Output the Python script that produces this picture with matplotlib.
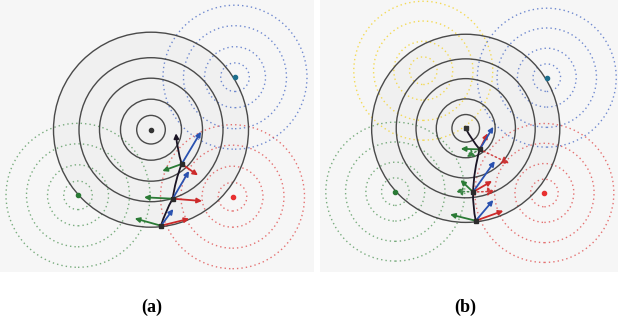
import numpy as np
import matplotlib.pyplot as plt
from matplotlib.patches import Circle

# scene in pixel-like units of panel (a), origin at the main (black) centre
ring_radii = [14.3, 30.5, 51.5, 72.0, 97.5]
other_radii = [14.3, 30.5, 51.5, 72.0]

centers = {
    'black': (0.0, 0.0),
    'blue': (84.0, 52.5),
    'red': (81.5, -67.0),
    'green': (-73.0, -65.6),
    'yellow': (-44.0, 59.7),
}

# trajectory points (a) and (b)
path_a_x = [10.0, 21.7, 30.7, 25.0]
path_a_y = [-96.0, -69.0, -34.3, -3.6]
path_b_x = [10.4, 7.6, 14.5, 0.0]
path_b_y = [-95.8, -66.0, -21.8, 0.0]

# force arrows: start point index, dx, dy, colour key, dotted?
arr_a_idx = [0, 0, 0, 1, 1, 1, 2, 2, 2]
arr_a_dx = [-26.3, 12.3, 28.3, -28.7, 16.3, 29.3, -19.4, 19.3, 16.3]
arr_a_dy = [7.3, 16.7, 7.0, 1.4, 27.7, -2.3, -7.0, 32.3, -11.3]
arr_a_col = ['g', 'b', 'r', 'g', 'b', 'r', 'g', 'b', 'r']
arr_a_dot = [False] * 9

arr_b_idx = [0, 0, 0, 1, 1, 1, 1, 1, 2, 2, 2, 2, 2]
arr_b_dx = [-26.6, 18.2, 28.6, -13.0, -18.0, 22.5, 19.7, 22.5, -19.7, -13.5, 8.3, 14.1, 30.4]
arr_b_dy = [6.6, 21.5, 10.4, 12.4, 1.0, 32.0, 11.4, 0.7, 0.6, -7.7, 16.6, 23.4, -14.5]
arr_b_col = ['g', 'b', 'r', 'g', 'g', 'b', 'r', 'r', 'g', 'g', 'r', 'b', 'r']
arr_b_dot = [False, False, False, False, True, False, False, True, False, True, False, False, True]

arrow_colors = {'g': '#2a7a35', 'b': '#2a52b0', 'r': '#cc2a2a'}
ring_colors = {'blue': '#4f6fc6', 'red': '#e05050', 'green': '#5a9a60', 'yellow': '#f3d32e'}
dot_colors = {'black': '#333333', 'blue': '#1e6e8c', 'red': '#e83030', 'green': '#2a7a35'}

BG = '#f6f6f6'


def draw_panel(ax, others, px, py, a_idx, a_dx, a_dy, a_col, a_dot, head_on_path):
    ax.set_facecolor(BG)
    # shaded main disc
    ax.add_patch(Circle(centers['black'], ring_radii[-1], facecolor='#f0f0f0',
                        edgecolor='none', zorder=0))
    for name in others:
        cx, cy = centers[name]
        for r in other_radii:
            ax.add_patch(Circle((cx, cy), r, fill=False, edgecolor=ring_colors[name],
                                linestyle=(0, (1, 2.2)), lw=1.0, alpha=0.8, zorder=1))
        if name in dot_colors:
            ax.plot(cx, cy, 'o', ms=3, color=dot_colors[name], zorder=5)
    for r in ring_radii:
        ax.add_patch(Circle(centers['black'], r, fill=False, edgecolor='#4a4a4a',
                            lw=1.0, zorder=2))
    ax.plot(0, 0, 'o' if head_on_path else 's', ms=3, color='#333333', zorder=6)

    # trajectory with slight curvature
    for i in range(len(px) - 1):
        last = i == len(px) - 2
        style = '-|>' if (last and head_on_path) else '-'
        ax.annotate('', xy=(px[i + 1], py[i + 1]), xytext=(px[i], py[i]),
                    arrowprops=dict(arrowstyle=style, color='#1a1424', lw=1.3,
                                    mutation_scale=7, shrinkA=0, shrinkB=0,
                                    connectionstyle='arc3,rad=-0.06'), zorder=4)
    for k in range(len(px) - 1):
        ax.plot(px[k], py[k], 's', ms=3, color='#2b2b2b', zorder=6)

    for i, dx, dy, c, dotted in zip(a_idx, a_dx, a_dy, a_col, a_dot):
        x0, y0 = px[i], py[i]
        if dotted:
            props = dict(arrowstyle='-|>,head_length=0.5,head_width=0.3', color=arrow_colors[c],
                         lw=1.1, linestyle=(0, (1, 1.8)), mutation_scale=8, shrinkA=0,
                         shrinkB=0, alpha=0.85)
        else:
            props = dict(arrowstyle='-|>', color=arrow_colors[c], lw=1.3,
                         mutation_scale=7, shrinkA=0, shrinkB=0)
        ax.annotate('', xy=(x0 + dx, y0 + dy), xytext=(x0, y0), arrowprops=props, zorder=5)

    for s in ax.spines.values():
        s.set_visible(False)
    ax.set_xticks([])
    ax.set_yticks([])


fig = plt.figure(figsize=(6.18, 3.2), dpi=100)

ax_a = fig.add_axes([0.0, 0.15, 314 / 618, 0.85])
draw_panel(ax_a, ['blue', 'red', 'green'], path_a_x, path_a_y,
           arr_a_idx, arr_a_dx, arr_a_dy, arr_a_col, arr_a_dot, True)
ax_a.set_xlim(-151, 163)
ax_a.set_ylim(-142.3, 129.7)

ax_b = fig.add_axes([320 / 618, 0.15, 298 / 618, 0.85])
draw_panel(ax_b, ['yellow', 'blue', 'red', 'green'], path_b_x, path_b_y,
           arr_b_idx, arr_b_dx, arr_b_dy, arr_b_col, arr_b_dot, False)
ax_b.set_xlim(-151, 157.8)
ax_b.set_ylim(-148.9, 133)

fig.text(152 / 618, 0.04, '(a)', ha='center', va='center', fontsize=13,
         fontweight='bold', family='Liberation Serif')
fig.text(465 / 618, 0.04, '(b)', ha='center', va='center', fontsize=13,
         fontweight='bold', family='Liberation Serif')

fig.savefig('out.png', dpi=100)
